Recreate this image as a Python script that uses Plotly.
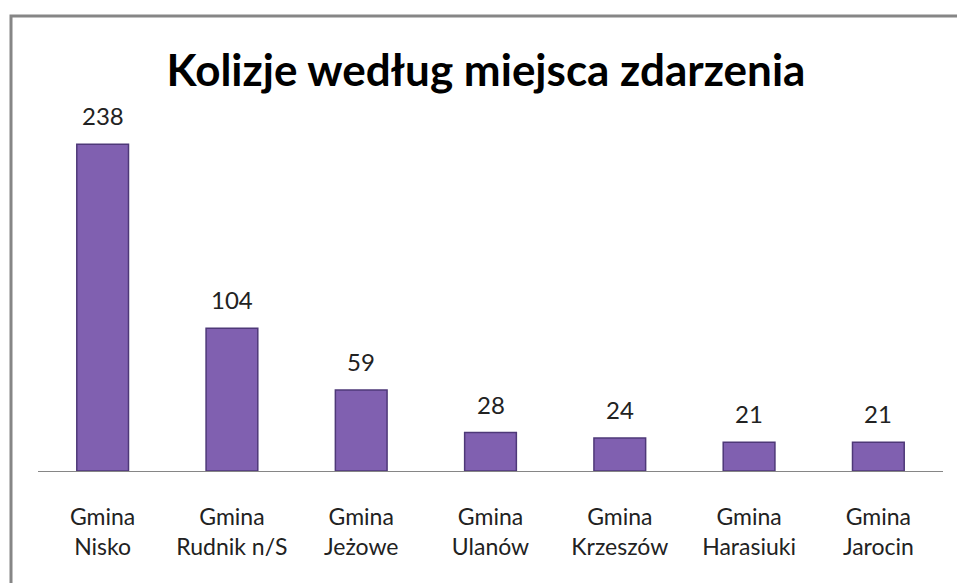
import plotly.graph_objects as go

categories = ["Gmina<br>Nisko", "Gmina<br>Rudnik n/S", "Gmina<br>Jeżowe", "Gmina<br>Ulanów",
              "Gmina<br>Krzeszów", "Gmina<br>Harasiuki", "Gmina<br>Jarocin"]
values = [238, 104, 59, 28, 24, 21, 21]
title_text = "Kolizje według miejsca zdarzenia"

W, H = 957, 583
L, R, T, B = 38, 14, 114, 112
pw, ph = W - L - R, H - T - B
FONT = "Lato, Open Sans, sans-serif"

fig = go.Figure(go.Bar(
    x=categories, y=values,
    marker=dict(color="#8060B0", line=dict(color="#4E3878", width=1.5)),
    cliponaxis=False,
))

for c, v in zip(categories, values):
    fig.add_annotation(x=c, y=v, text=str(v), showarrow=False,
                       yanchor="bottom", yshift=12,
                       font=dict(family=FONT, size=24, color="#222222"))

fig.update_layout(
    width=W, height=H,
    margin=dict(l=L, r=R, t=T, b=B),
    paper_bgcolor="white", plot_bgcolor="white",
    bargap=0.6,
    showlegend=False,
    title=dict(text="<b>" + title_text + "</b>", x=486 / W, xanchor="center",
               y=1 - 71 / H, yanchor="middle",
               font=dict(family=FONT, size=44, color="black")),
    xaxis=dict(showline=True, linecolor="#868686", linewidth=1, ticks="",
               tickfont=dict(family=FONT, size=23, color="#222222"),
               ticklabelstandoff=25, automargin=False,
               showgrid=False),
    yaxis=dict(range=[0, 260], visible=False, showgrid=False),
    shapes=[dict(type="rect", xref="paper", yref="paper",
                 x0=(11 - L) / pw, x1=(W + 20 - L) / pw,
                 y0=(H - B - (H + 20)) / ph, y1=(H - B - 16) / ph,
                 line=dict(color="#868686", width=3), fillcolor="rgba(0,0,0,0)", layer="below")],
)

fig.write_html("out.html", config={"displayModeBar": False},
               post_script="document.body.style.margin='0';document.body.style.overflow='hidden';")
